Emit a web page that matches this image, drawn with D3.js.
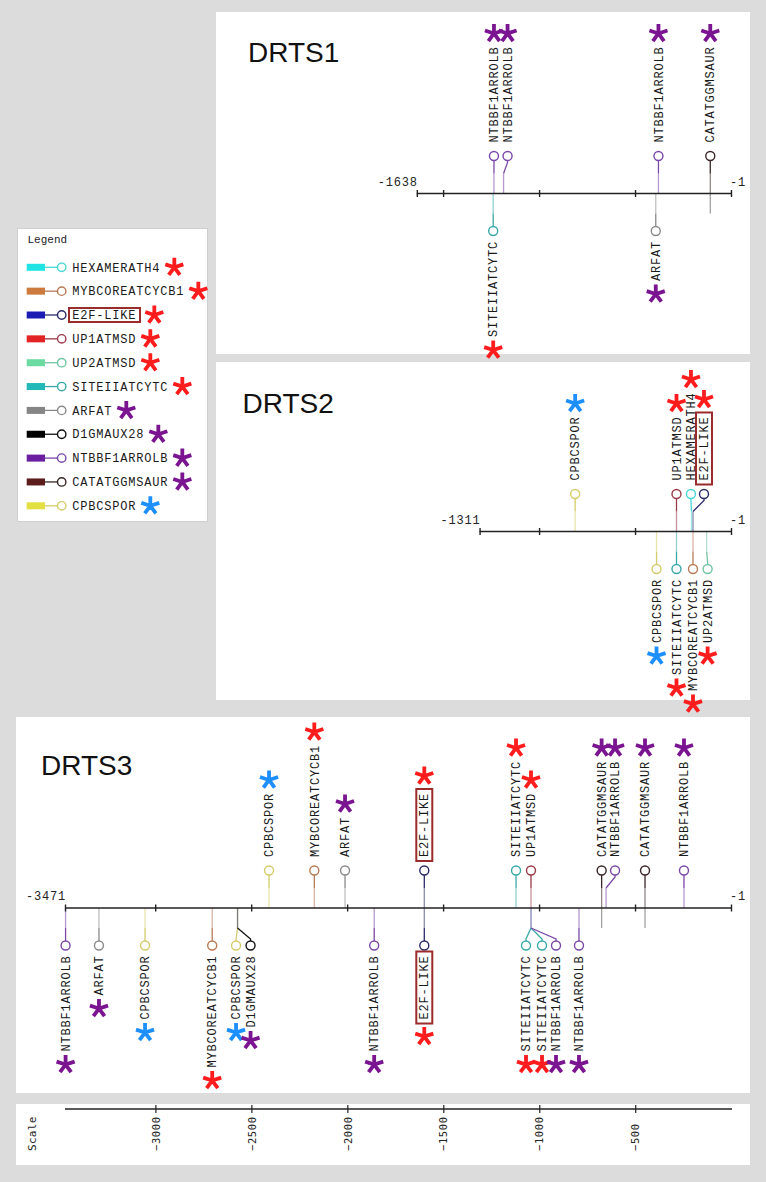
<!DOCTYPE html>
<html><head><meta charset="utf-8">
<script src="https://cdn.jsdelivr.net/npm/d3@7"></script>
<style>body{margin:0;background:#dcdcdc;} svg{display:block}</style>
</head><body>
<svg id="chart" width="766" height="1182"></svg>
<script>
// ================= DATA =================
const motifNames = ["HEXAMERATH4","MYBCOREATCYCB1","E2F-LIKE","UP1ATMSD","UP2ATMSD","SITEIIATCYTC","ARFAT","D1GMAUX28","NTBBF1ARROLB","CATATGGMSAUR","CPBCSPOR"];
const motifGroup = ["red","red","red","red","red","red","purple","purple","purple","purple","blue"];

const drts1Length = 1638;
const drts1Motifs = ["NTBBF1ARROLB","NTBBF1ARROLB","NTBBF1ARROLB","CATATGGMSAUR","SITEIIATCYTC","ARFAT"];
const drts1Positions = [-1236,-1186,-379,-109,-1240,-393];
const drts1Side = ["up","up","up","up","down","down"];

const drts2Length = 1311;
const drts2Motifs = ["CPBCSPOR","UP1ATMSD","HEXAMERATH4","E2F-LIKE","CPBCSPOR","SITEIIATCYTC","MYBCOREATCYCB1","UP2ATMSD"];
const drts2Positions = [-813,-285,-207,-199,-389,-285,-199,-128];
const drts2Side = ["up","up","up","up","down","down","down","down"];

const drts3Length = 3471;
const drts3Motifs = ["CPBCSPOR","MYBCOREATCYCB1","ARFAT","E2F-LIKE","SITEIIATCYTC","UP1ATMSD","CATATGGMSAUR","NTBBF1ARROLB","CATATGGMSAUR","NTBBF1ARROLB",
  "NTBBF1ARROLB","ARFAT","CPBCSPOR","MYBCOREATCYCB1","CPBCSPOR","D1GMAUX28","NTBBF1ARROLB","E2F-LIKE","SITEIIATCYTC","SITEIIATCYTC","NTBBF1ARROLB","NTBBF1ARROLB"];
const drts3Positions = [-2408,-2172,-2012,-1599,-1121,-1043,-675,-652,-449,-246,
  -3468,-3294,-3054,-2704,-2572,-2572,-1860,-1599,-1043,-1043,-1043,-793];
const drts3Side = ["up","up","up","up","up","up","up","up","up","up",
  "down","down","down","down","down","down","down","down","down","down","down","down"];

const scaleTicks = [-3000,-2500,-2000,-1500,-1000,-500];

// ================= STYLE / LAYOUT =================
const motifFill   = ["#22e3e3","#cd7a3f","#1c1cb4","#e22424","#6bdba2","#22b8b8","#858585","#000000","#6c1ea0","#5c1c1c","#e2df40"];
const motifStroke = ["#48d6d6","#b87a55","#2a2a6a","#9a3a4a","#72c4a2","#3aa8a8","#8a8a8a","#111111","#7a48a8","#3a2626","#d4cc6a"];
const groupColor = {red:"#ff1c1c", purple:"#7a1490", blue:"#1e8fff"};
const boxedMotif = "E2F-LIKE";
const throughMotif = "CATATGGMSAUR";

// label nudges (circle offset from anchor, px)
const drts1Nudge = [0,4,0,0,0,0];
const drts2Nudge = [0,0,-0.5,11,0,0,0,1];
const drts3Nudge = [0,0,0,0,0,0,0,9,0,0, 0,0,0,0,-1.5,13,0,0,-5,11,25,0];

const MONO = "'Liberation Mono','Courier New',monospace";
const svg = d3.select("#chart");
const x = d3.scaleLinear().domain([-3471,-1]).range([65,731]);
const idx = n => motifNames.indexOf(n);

function star(g, cx, cy, color) {
  const L = 9.5;
  const angles = [-90,-18,54,126,198];
  g.append("path")
    .attr("d", angles.map(a => {
      const r = a*Math.PI/180;
      return `M${cx},${cy}L${cx+L*Math.cos(r)},${cy+L*Math.sin(r)}`;
    }).join(""))
    .attr("stroke", color).attr("stroke-width", 3.8).attr("fill","none");
}

function drawPanel(p) {
  const g = svg.append("g");
  g.append("rect").attr("x",p.box[0]).attr("y",p.box[1]).attr("width",p.box[2]).attr("height",p.box[3]).attr("fill","#fff");
  g.append("text").text(p.title).attr("x",p.tx).attr("y",p.ty)
    .attr("font-family","'Liberation Sans',Arial,sans-serif").attr("font-size",28).attr("fill","#111");
  const ay = p.axisY;
  const feats = p.names.map((n,i)=>({name:n, pos:p.pos[i], side:p.side[i], nudge:p.nudge[i]}));
  const stemG = g.append("g"), topG = g.append("g");
  feats.forEach(f => {
    const k = idx(f.name);
    const col = motifStroke[k];
    const light = d3.interpolateRgb(col, "#ffffff")(0.45);
    const dir = f.side === "up" ? -1 : 1;
    const px = x(f.pos), cx = px + f.nudge;
    const cy = ay + dir*37.5;
    if (f.name === throughMotif) {
      stemG.append("line").attr("x1",px).attr("x2",px).attr("y1",ay).attr("y2",ay - dir*20)
        .attr("stroke","#9a9a9a").attr("stroke-width",1.2);
    }
    stemG.append("line").attr("x1",px).attr("x2",px).attr("y1",ay).attr("y2",ay+dir*20)
      .attr("stroke",light).attr("stroke-width",1.3);
    stemG.append("path").attr("d",`M${px},${ay+dir*20}L${cx},${ay+dir*31}L${cx},${cy - dir*4.5}`)
      .attr("stroke",col).attr("stroke-width",1.3).attr("fill","none");
    topG.append("circle").attr("cx",cx).attr("cy",cy).attr("r",4.5)
      .attr("fill","#fff").attr("stroke",col).attr("stroke-width",1.4);
    const ly = f.side === "up" ? cy - 13.5 : cy + 10;
    const lg = topG.append("g").attr("transform",`translate(${cx},${ly}) rotate(-90)`);
    const t = lg.append("text").text(f.name).attr("dy","0.35em")
      .attr("text-anchor", f.side==="up" ? "start" : "end")
      .attr("font-family",MONO).attr("font-size",12).attr("letter-spacing",0.8).attr("fill","#1a1a1a");
    const len = t.node().getComputedTextLength();
    let pad = 0;
    if (f.name === boxedMotif) {
      pad = 4;
      lg.append("rect").attr("x", f.side==="up" ? -4 : -len-4).attr("y",-8)
        .attr("width",len+8).attr("height",16).attr("fill","none")
        .attr("stroke","#9b2c2c").attr("stroke-width",2);
    }
    const sy = f.side === "up" ? ly - len - pad - 13 : ly + len + pad + 13;
    star(topG, cx, sy, groupColor[motifGroup[k]]);
  });
  // axis
  const axG = g.append("g");
  axG.append("line").attr("x1",x(-p.len)).attr("x2",x(-1)).attr("y1",ay).attr("y2",ay)
    .attr("stroke","#222").attr("stroke-width",1.6);
  const tv = [-p.len].concat(d3.range(-1, -p.len, -500));
  const ax = axG.append("g").attr("transform",`translate(0,${ay-3.5})`)
    .call(d3.axisBottom(x).tickValues(tv).tickSize(7).tickFormat(""));
  ax.select(".domain").remove();
  ax.selectAll(".tick line").attr("stroke","#222").attr("stroke-width",1.4);
  axG.append("text").text(String(-p.len)).attr("x",x(-p.len)+1).attr("y",ay-8).attr("text-anchor","end")
    .attr("font-family",MONO).attr("font-size",12).attr("letter-spacing",0.8).attr("fill","#222");
  axG.append("text").text("-1").attr("x",x(-1)-1).attr("y",ay-8).attr("text-anchor","start")
    .attr("font-family",MONO).attr("font-size",12).attr("letter-spacing",0.8).attr("fill","#222");
}

drawPanel({title:"DRTS1", box:[216,12,534,342], tx:248, ty:62, axisY:193.5, len:drts1Length,
  names:drts1Motifs, pos:drts1Positions, side:drts1Side, nudge:drts1Nudge});
drawPanel({title:"DRTS2", box:[216,362,534,338], tx:242.5, ty:413, axisY:531.5, len:drts2Length,
  names:drts2Motifs, pos:drts2Positions, side:drts2Side, nudge:drts2Nudge});
drawPanel({title:"DRTS3", box:[16,717,734,376], tx:41, ty:775, axisY:908, len:drts3Length,
  names:drts3Motifs, pos:drts3Positions, side:drts3Side, nudge:drts3Nudge});

// ---- legend ----
const lg = svg.append("g");
lg.append("rect").attr("x",17.5).attr("y",228.5).attr("width",190).attr("height",293)
  .attr("fill","#fff").attr("stroke","#cfcfcf");
lg.append("text").text("Legend").attr("x",27.5).attr("y",243).attr("font-family",MONO)
  .attr("font-size",11).attr("fill","#222");
motifNames.forEach((n,i) => {
  const y = 267.3 + i*23.85;
  lg.append("rect").attr("x",26.7).attr("y",y-3.5).attr("width",18.3).attr("height",7).attr("fill",motifFill[i]);
  lg.append("line").attr("x1",45).attr("x2",57.5).attr("y1",y).attr("y2",y).attr("stroke",motifStroke[i]).attr("stroke-width",1.3);
  lg.append("circle").attr("cx",61.7).attr("cy",y).attr("r",4.2).attr("fill","#fff").attr("stroke",motifStroke[i]).attr("stroke-width",1.4);
  const t = lg.append("text").text(n).attr("x",72.3).attr("y",y).attr("dy","0.35em")
    .attr("font-family",MONO).attr("font-size",12).attr("letter-spacing",0.8).attr("fill","#1a1a1a");
  const len = t.node().getComputedTextLength();
  let end = 72.3 + len;
  if (n === boxedMotif) {
    lg.append("rect").attr("x",69).attr("y",y-7).attr("width",len+7).attr("height",14)
      .attr("fill","none").attr("stroke","#9b2c2c").attr("stroke-width",2);
    end += 4;
  }
  star(lg, end + 14, y, groupColor[motifGroup[i]]);
});

// ---- scale ----
const sg = svg.append("g");
sg.append("rect").attr("x",16).attr("y",1104).attr("width",734).attr("height",61).attr("fill","#fff");
sg.append("line").attr("x1",65).attr("x2",732).attr("y1",1109).attr("y2",1109).attr("stroke","#222").attr("stroke-width",1.4);
const sax = sg.append("g").attr("transform","translate(0,1105)")
  .call(d3.axisBottom(x).tickValues(scaleTicks).tickSize(8).tickFormat(d3.format("d")));
sax.select(".domain").remove();
sax.selectAll(".tick line").attr("stroke","#222").attr("stroke-width",1.2);
sax.selectAll(".tick text").attr("y",0).attr("x",0).attr("dy","0.35em")
  .attr("transform","translate(0,46) rotate(-90)").attr("text-anchor","start")
  .attr("font-family","'DejaVu Sans Mono',monospace").attr("font-size",10.5).attr("letter-spacing",0.6).attr("fill","#222");
sg.append("text").text("Scale").attr("transform","translate(31.7,1151) rotate(-90)").attr("dy","0.35em")
  .attr("font-family","'DejaVu Sans Mono',monospace").attr("font-size",11).attr("letter-spacing",0.3).attr("fill","#222");
</script>
</body></html>
